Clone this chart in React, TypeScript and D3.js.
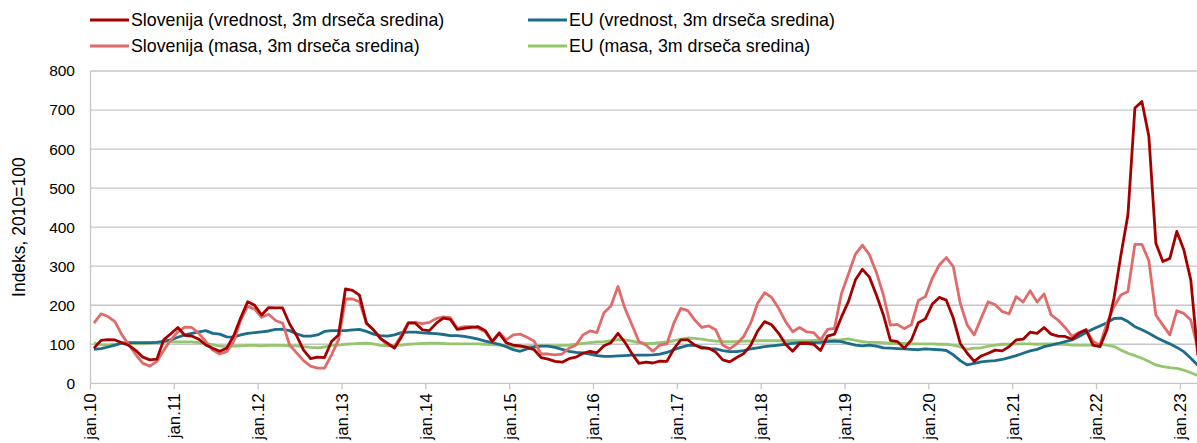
import {useEffect, useRef} from "react";
import * as d3 from "d3";

// monthly, jan.10 .. mar.23 (3m moving averages, index 2010=100)
const yearLabels = ["jan.10", "jan.11", "jan.12", "jan.13", "jan.14", "jan.15", "jan.16", "jan.17", "jan.18", "jan.19", "jan.20", "jan.21", "jan.22", "jan.23"];
const yTicks = [0, 100, 200, 300, 400, 500, 600, 700, 800];

const siValue = [
    90, 110, 112, 111, 104, 97, 84, 67, 60, 62, 112, 127,
    143, 123, 121, 113, 98, 90, 82, 90, 122, 168, 209, 200,
    175, 194, 193, 193, 152, 122, 85, 63, 67, 66, 107, 124,
    242, 238, 226, 154, 137, 115, 103, 90, 118, 154, 154, 137,
    135, 154, 167, 164, 138, 141, 143, 145, 135, 107, 128, 104,
    98, 96, 92, 86, 66, 62, 56, 54, 63, 67, 77, 82,
    78, 96, 104, 128, 105, 76, 51, 54, 52, 57, 56, 88,
    111, 111, 98, 90, 90, 80, 60, 55, 66, 76, 97, 134,
    158, 150, 128, 100, 82, 102, 102, 100, 84, 121, 126, 170,
    210, 265, 292, 272, 226, 175, 110, 107, 90, 111, 155, 165,
    203, 220, 213, 167, 102, 77, 56, 70, 77, 85, 83, 94,
    111, 113, 131, 128, 143, 126, 121, 120, 113, 128, 137, 98,
    94, 137, 218, 329, 431, 705, 722, 632, 359, 312, 320, 389,
    342, 265, 72,
];

const siMass = [
    154, 178, 171, 158, 124, 98, 73, 51, 44, 56, 85, 111,
    132, 144, 143, 128, 107, 85, 75, 81, 107, 162, 197, 190,
    169, 177, 161, 154, 98, 78, 58, 44, 39, 39, 73, 111,
    216, 216, 209, 154, 137, 115, 98, 94, 124, 156, 156, 153,
    156, 166, 170, 168, 141, 145, 145, 141, 132, 107, 130, 111,
    124, 126, 118, 108, 75, 75, 73, 75, 90, 98, 124, 134,
    130, 181, 198, 248, 192, 150, 107, 98, 82, 98, 101, 154,
    192, 186, 162, 143, 147, 137, 98, 88, 101, 120, 154, 205,
    232, 220, 192, 158, 132, 143, 132, 130, 111, 138, 141, 230,
    280, 331, 354, 329, 284, 226, 149, 151, 140, 150, 212, 222,
    269, 303, 322, 299, 205, 149, 124, 167, 209, 201, 184, 178,
    222, 208, 237, 208, 229, 175, 162, 143, 120, 130, 137, 107,
    98, 154, 196, 226, 235, 356, 356, 314, 175, 149, 124, 186,
    179, 162, 90,
];

const euValue = [
    87, 89, 93, 98, 103, 104, 104, 104, 104, 105, 108, 111,
    118, 124, 128, 132, 135, 128, 126, 119, 118, 124, 128, 130,
    132, 134, 138, 138, 135, 127, 121, 121, 124, 133, 135, 135,
    135, 137, 138, 133, 126, 122, 121, 124, 130, 131, 131, 129,
    128, 127, 125, 122, 122, 120, 117, 113, 108, 104, 100, 94,
    86, 82, 88, 93, 95, 95, 92, 87, 82, 79, 78, 75,
    71, 69, 69, 70, 71, 72, 72, 72, 73, 75, 79, 86,
    92, 97, 97, 93, 89, 88, 84, 81, 81, 84, 88, 91,
    94, 96, 98, 100, 102, 104, 104, 104, 105, 107, 108, 107,
    102, 98, 96, 98, 95, 91, 90, 89, 88, 87, 86, 88,
    87, 86, 84, 73, 58, 47, 51, 55, 57, 58, 61, 66,
    71, 77, 83, 87, 94, 98, 102, 107, 111, 120, 130, 139,
    147, 155, 166, 167, 158, 145, 137, 128, 118, 109, 101, 92,
    81, 64, 46,
];

const euMass = [
    103, 99, 98, 100, 103, 102, 101, 101, 103, 104, 105, 106,
    106, 106, 106, 104, 102, 99, 95, 94, 95, 96, 97, 97,
    96, 97, 97, 97, 96, 96, 94, 92, 91, 93, 97, 98,
    100, 101, 102, 103, 101, 97, 96, 97, 98, 100, 101, 102,
    103, 103, 102, 101, 101, 101, 101, 101, 100, 99, 98, 96,
    94, 93, 94, 95, 96, 96, 96, 97, 98, 100, 102, 104,
    106, 107, 109, 112, 111, 108, 104, 102, 102, 104, 106, 109,
    113, 116, 115, 113, 110, 108, 107, 107, 107, 108, 108, 109,
    109, 109, 109, 109, 109, 109, 109, 110, 111, 111, 111, 112,
    114, 110, 107, 105, 105, 104, 102, 102, 102, 101, 101, 101,
    101, 100, 100, 98, 93, 87, 90, 91, 95, 98, 100, 100,
    101, 101, 101, 100, 101, 101, 100, 100, 98, 98, 98, 98,
    100, 98, 94, 85, 77, 71, 64, 56, 47, 43, 40, 38,
    34, 27, 20,
];

const seriesNames = [
    "Slovenija (vrednost, 3m drseča sredina)",
    "EU (vrednost, 3m drseča sredina)",
    "Slovenija (masa, 3m drseča sredina)",
    "EU (masa, 3m drseča sredina)",
];

function App() {
    const ref = useRef<SVGSVGElement>(null);

    const width = 1197,
        height = 443;
    const plot = {left: 90.5, top: 71, bottom: 383.3, monthW: 6.986};

    const colors: Record<string, string> = {
        siV: "#a50000",
        siM: "#e06b6b",
        euV: "#1b6d8a",
        euM: "#95c66f",
    };

    useEffect(() => {
        const svg = d3.select(ref.current);
        svg.selectAll("*").remove();

        const n = siValue.length;
        const x = d3.scaleLinear()
            .domain([0, n])
            .range([plot.left, plot.left + n * plot.monthW]);
        const y = d3.scaleLinear()
            .domain([0, 800])
            .range([plot.bottom, plot.top]);

        const font = "'Liberation Sans', Arial, sans-serif";
        const right = x(n);

        // gridlines
        svg.append("g")
            .selectAll("line")
            .data(yTicks)
            .enter()
            .append("line")
            .attr("x1", plot.left)
            .attr("x2", right)
            .attr("y1", d => y(d))
            .attr("y2", d => y(d))
            .attr("stroke", "#c6c6c6")
            .attr("stroke-width", 1.3);

        // left axis line
        svg.append("line")
            .attr("x1", plot.left).attr("x2", plot.left)
            .attr("y1", y(800)).attr("y2", y(0))
            .attr("stroke", "#c6c6c6")
            .attr("stroke-width", 1.3);

        // y labels
        svg.append("g")
            .selectAll("text")
            .data(yTicks)
            .enter()
            .append("text")
            .attr("x", 75)
            .attr("y", d => y(d))
            .attr("dy", "0.35em")
            .attr("text-anchor", "end")
            .attr("font-family", font)
            .attr("font-size", 15.5)
            .attr("fill", "#000")
            .text(d => d);

        // y title
        svg.append("text")
            .attr("transform", `translate(25,${(y(0) + y(800)) / 2}) rotate(-90)`)
            .attr("text-anchor", "middle")
            .attr("font-family", font)
            .attr("font-size", 17.5)
            .text("Indeks, 2010=100");

        // x ticks + labels (one per january)
        const xt = svg.append("g")
            .selectAll("g")
            .data(yearLabels)
            .enter()
            .append("g")
            .attr("transform", (d, i) => `translate(${x(i * 12)},${y(0)})`);
        xt.append("line")
            .attr("y2", 6)
            .attr("stroke", "#c6c6c6")
            .attr("stroke-width", 1.3);
        xt.append("text")
            .attr("transform", "translate(0,10) rotate(-90)")
            .attr("text-anchor", "end")
            .attr("dy", "0.35em")
            .attr("font-family", font)
            .attr("font-size", 17)
            .text(d => d);

        // series
        const line = d3.line<number>()
            .x((d, i) => x(i + 0.5))
            .y(d => y(d));

        const series: [number[], string][] = [
            [euMass, colors.euM],
            [euValue, colors.euV],
            [siMass, colors.siM],
            [siValue, colors.siV],
        ];
        svg.append("g")
            .selectAll("path")
            .data(series)
            .enter()
            .append("path")
            .attr("d", d => line(d[0]))
            .attr("fill", "none")
            .attr("stroke", d => d[1])
            .attr("stroke-width", 2.8)
            .attr("stroke-linejoin", "round");

        // legend
        const legendItems = [
            {name: seriesNames[0], color: colors.siV, lx: 90, ly: 20},
            {name: seriesNames[1], color: colors.euV, lx: 528, ly: 20},
            {name: seriesNames[2], color: colors.siM, lx: 90, ly: 46},
            {name: seriesNames[3], color: colors.euM, lx: 528, ly: 46},
        ];
        const lg = svg.append("g")
            .selectAll("g")
            .data(legendItems)
            .enter()
            .append("g")
            .attr("transform", d => `translate(${d.lx},${d.ly})`);
        lg.append("line")
            .attr("x2", 39)
            .attr("stroke", d => d.color)
            .attr("stroke-width", 2.8);
        lg.append("text")
            .attr("x", 41)
            .attr("dy", "0.35em")
            .attr("font-family", font)
            .attr("font-size", 17.8)
            .text(d => d.name);
    }, []);

    return (
        <svg ref={ref} width={width} height={height}
             style={{position: "absolute", left: 0, top: 0, background: "#fff"}}/>
    );
}

export default App;
